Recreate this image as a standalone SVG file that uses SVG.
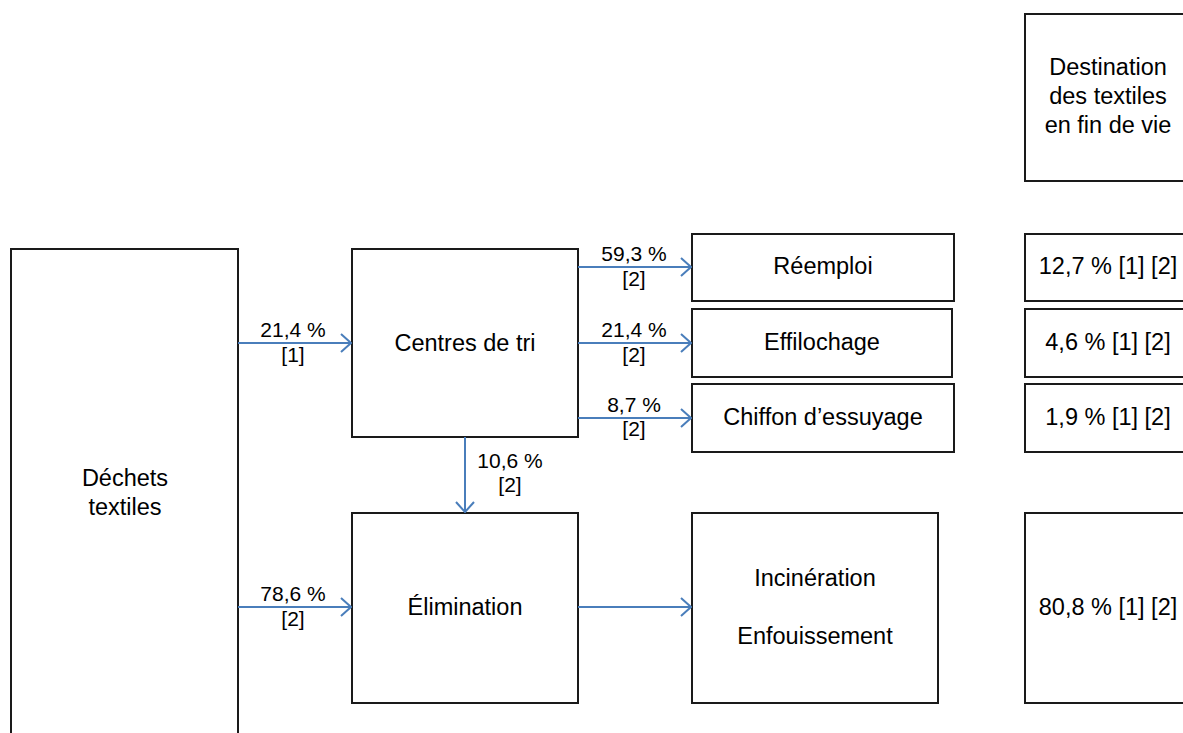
<svg xmlns="http://www.w3.org/2000/svg" width="1183" height="733" viewBox="0 0 1183 733">
<defs>
<style>
.box{fill:#fff;stroke:#1a1a1a;stroke-width:2}
.t{font-family:"Liberation Sans",Arial,sans-serif;font-size:23.5px;fill:#000;text-anchor:middle}
.l{font-family:"Liberation Sans",Arial,sans-serif;font-size:21px;fill:#000;text-anchor:middle}
.c{fill:none;stroke:#4a7ebb;stroke-width:2}
</style>
<marker id="ah" viewBox="0 0 12 20" refX="11" refY="10" markerWidth="12" markerHeight="20" markerUnits="userSpaceOnUse" orient="auto">
<path d="M1,1 L11,10 L1,19" fill="none" stroke="#4a7ebb" stroke-width="2"/>
</marker>
</defs>
<rect width="1183" height="733" fill="#fff"/>
<g id="dechets"><rect class="box" x="11" y="249" width="227" height="500"/><text class="t" x="125" y="486">Déchets</text><text class="t" x="125" y="515">textiles</text></g>
<g id="centres"><rect class="box" x="352" y="249" width="226" height="188"/><text class="t" x="465" y="351">Centres de tri</text></g>
<g id="elimination"><rect class="box" x="352" y="513" width="226" height="190"/><text class="t" x="465" y="615">Élimination</text></g>
<g id="reemploi"><rect class="box" x="692" y="234" width="262" height="67"/><text class="t" x="823" y="274">Réemploi</text></g>
<g id="effilochage"><rect class="box" x="692" y="309" width="260" height="68"/><text class="t" x="822" y="350">Effilochage</text></g>
<g id="chiffon"><rect class="box" x="692" y="384" width="262" height="68"/><text class="t" x="823" y="425">Chiffon d’essuyage</text></g>
<g id="incineration"><rect class="box" x="692" y="513" width="246" height="190"/><text class="t" x="815" y="586">Incinération</text><text class="t" x="815" y="644">Enfouissement</text></g>
<g id="destination"><rect class="box" x="1025" y="14" width="166" height="167"/><text class="t" x="1108" y="75">Destination</text><text class="t" x="1108" y="104">des textiles</text><text class="t" x="1108" y="133">en fin de vie</text></g>
<g id="d-reemploi"><rect class="box" x="1025" y="234" width="166" height="67"/><text class="t" x="1108" y="274">12,7 % [1] [2]</text></g>
<g id="d-effilochage"><rect class="box" x="1025" y="309" width="166" height="68"/><text class="t" x="1108" y="350">4,6 % [1] [2]</text></g>
<g id="d-chiffon"><rect class="box" x="1025" y="384" width="166" height="68"/><text class="t" x="1108" y="425">1,9 % [1] [2]</text></g>
<g id="d-elimination"><rect class="box" x="1025" y="513" width="166" height="190"/><text class="t" x="1108" y="615">80,8 % [1] [2]</text></g>
<g id="connectors">
<line class="c" x1="238" y1="343" x2="351" y2="343" marker-end="url(#ah)"/>
<line class="c" x1="578" y1="267" x2="691" y2="267" marker-end="url(#ah)"/>
<line class="c" x1="578" y1="343" x2="691" y2="343" marker-end="url(#ah)"/>
<line class="c" x1="578" y1="418" x2="691" y2="418" marker-end="url(#ah)"/>
<line class="c" x1="465" y1="437" x2="465" y2="512" marker-end="url(#ah)"/>
<line class="c" x1="238" y1="607" x2="351" y2="607" marker-end="url(#ah)"/>
<line class="c" x1="578" y1="607" x2="691" y2="607" marker-end="url(#ah)"/>
<text class="l" x="293" y="337">21,4 %</text><text class="l" x="293" y="362">[1]</text>
<text class="l" x="634" y="261">59,3 %</text><text class="l" x="634" y="286">[2]</text>
<text class="l" x="634" y="337">21,4 %</text><text class="l" x="634" y="362">[2]</text>
<text class="l" x="634" y="412">8,7 %</text><text class="l" x="634" y="436">[2]</text>
<text class="l" x="510" y="468">10,6 %</text><text class="l" x="510" y="492">[2]</text>
<text class="l" x="293" y="601">78,6 %</text><text class="l" x="293" y="626">[2]</text>
</g>
</svg>
